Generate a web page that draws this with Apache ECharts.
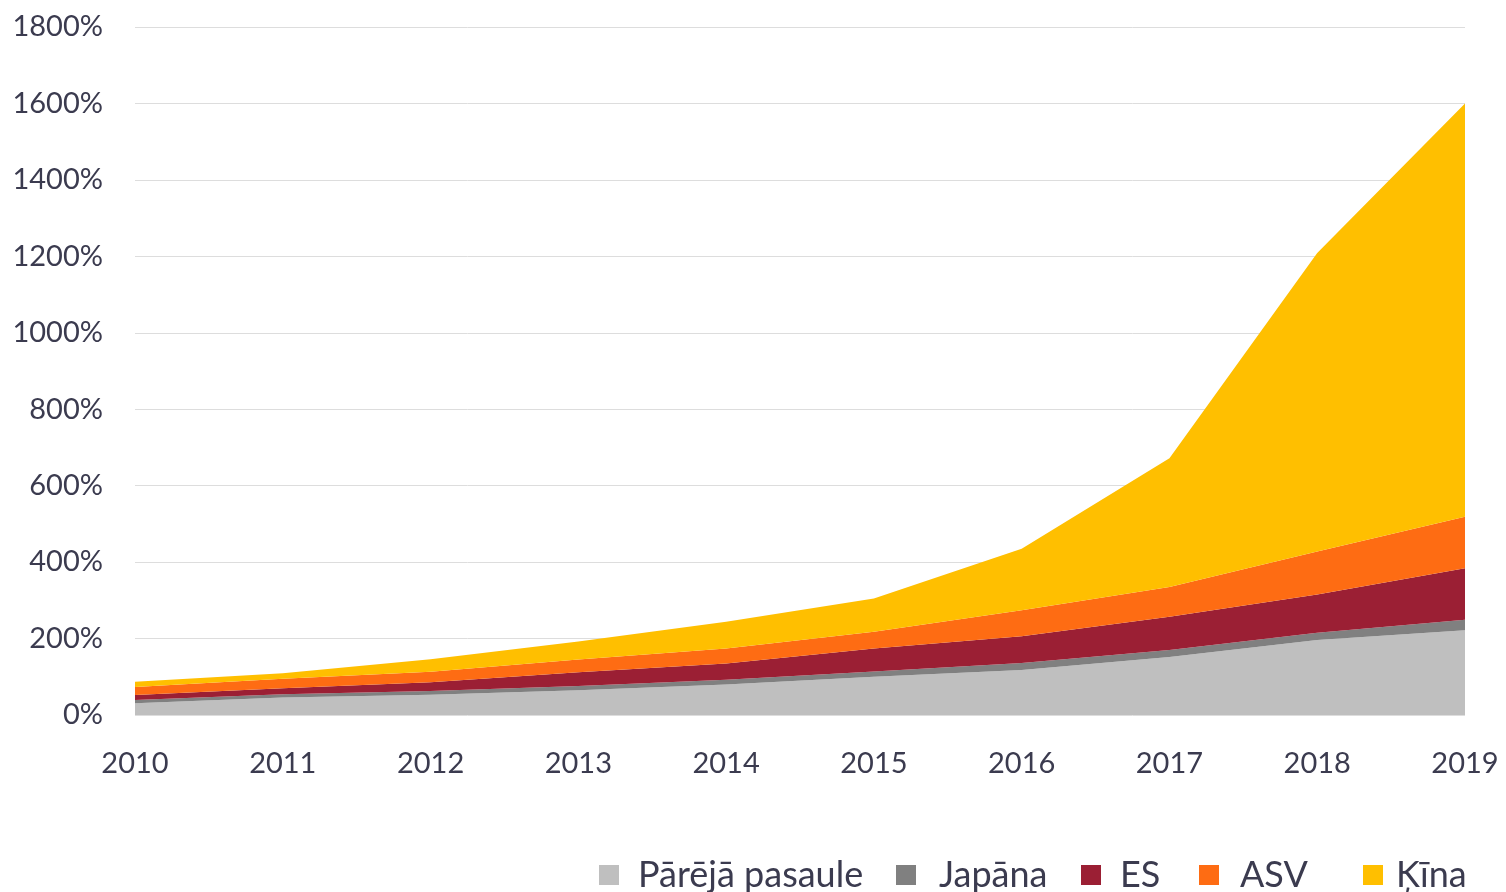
<!DOCTYPE html>
<html>
<head>
<meta charset="utf-8">
<script src="https://cdn.jsdelivr.net/npm/echarts@6/dist/echarts.min.js"></script>
<style>
html,body{margin:0;padding:0;background:#fff;}
#chart{width:1506px;height:892px;}
</style>
</head>
<body>
<div id="chart"></div>
<script>
const years = ['2010','2011','2012','2013','2014','2015','2016','2017','2018','2019'];
const seriesNames = ['Pārējā pasaule','Japāna','ES','ASV','Ķīna'];
const restWorld = [31, 46, 53, 65, 80, 100, 118, 152, 196, 222];
const japan     = [8, 8, 10, 11, 12, 14, 18, 18, 19, 27];
const eu        = [13, 16, 23, 36, 43, 60, 70, 87, 100, 135];
const usa       = [21, 25, 27, 33, 39, 44, 68, 78, 113, 135];
const china     = [14, 14, 33, 47, 70, 87, 161, 337, 781, 1081];
const yTicks = {min: 0, max: 1800, interval: 200};

const colors = ['#bfbfbf', '#808080', '#9b1f34', '#fe6c13', '#ffbf00'];
const dataSets = [restWorld, japan, eu, usa, china];
const textColor = '#3b3b4f';
const font = 'Lato';

const series = seriesNames.map((n, i) => ({
  name: n,
  type: 'line',
  stack: 'total',
  data: dataSets[i],
  showSymbol: false,
  symbol: 'none',
  lineStyle: {width: 0},
  itemStyle: {color: colors[i]},
  areaStyle: {color: colors[i], opacity: 1}
}));

const legendLefts = [594, 891, 1076, 1194, 1358];
const legendPads = [14, 18, 14, 16, 8];
const legends = seriesNames.map((n, i) => ({
  data: [n],
  left: legendLefts[i],
  top: 852,
  icon: 'rect',
  itemWidth: 20,
  itemHeight: 20,
  selectedMode: false,
  textStyle: {fontFamily: font, fontSize: 36, color: textColor, padding: [0, 0, 0, legendPads[i]]}
}));

const chart = echarts.init(document.getElementById('chart'));
chart.setOption({
  animation: false,
  backgroundColor: '#ffffff',
  grid: {left: 135, right: 41, top: 27, bottom: 177, containLabel: false},
  legend: legends,
  xAxis: {
    type: 'category',
    data: years,
    boundaryGap: false,
    axisLine: {show: false},
    axisTick: {show: false},
    axisLabel: {fontFamily: font, fontSize: 29, color: textColor, margin: 34}
  },
  yAxis: {
    type: 'value',
    min: yTicks.min,
    max: yTicks.max,
    interval: yTicks.interval,
    axisLine: {show: false},
    axisTick: {show: false},
    axisLabel: {fontFamily: font, fontSize: 29, color: textColor, margin: 32, formatter: v => v + '%'},
    splitLine: {lineStyle: {color: '#dddddd', width: 1}}
  },
  series: series
});
</script>
</body>
</html>
